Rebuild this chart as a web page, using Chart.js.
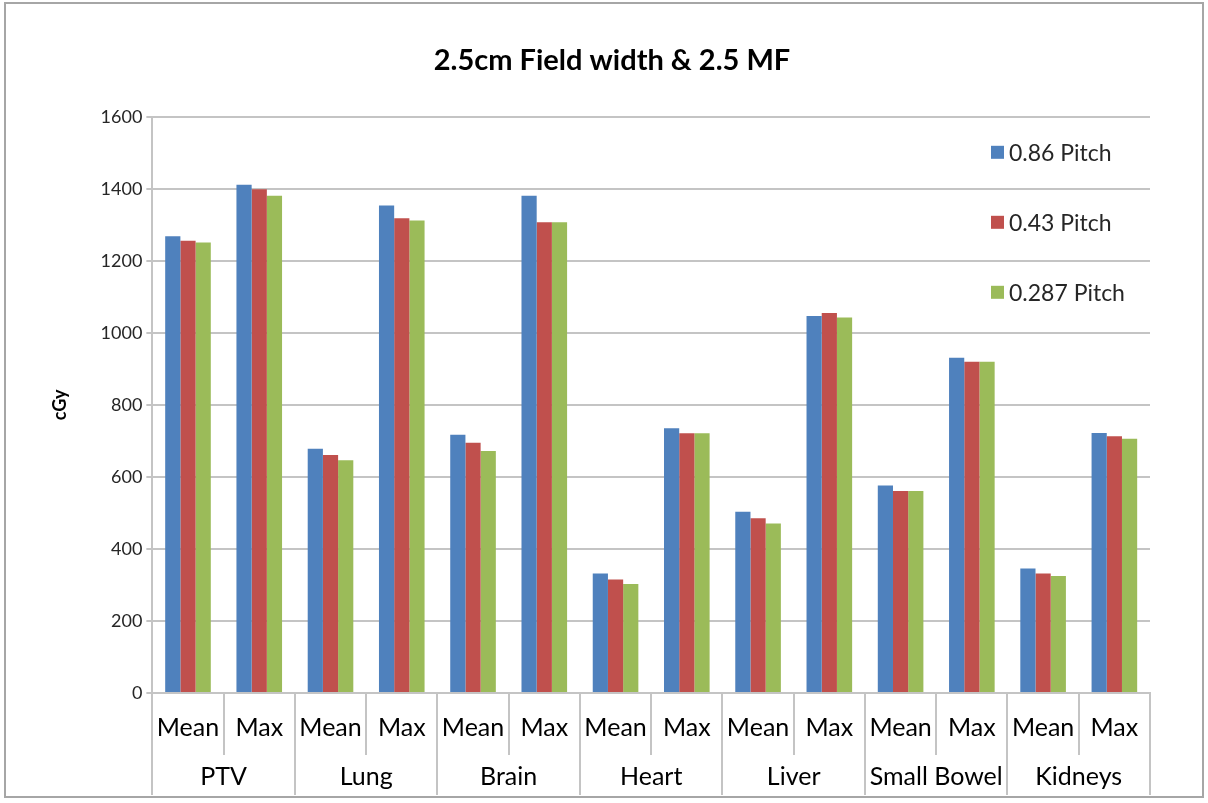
<!DOCTYPE html>
<html>
<head>
<meta charset="utf-8">
<title>2.5cm Field width &amp; 2.5 MF</title>
<script src="https://cdn.jsdelivr.net/npm/chart.js@4.4.1/dist/chart.umd.min.js"></script>
<style>
  html, body { margin: 0; padding: 0; background: #ffffff; }
  #wrap { width: 1208px; height: 803px; }
</style>
</head>
<body>
<div id="wrap"><canvas id="chart" width="1208" height="803"></canvas></div>
<script>
// Organ groups and the two dose statistics reported for each
const groups = ['PTV', 'Lung', 'Brain', 'Heart', 'Liver', 'Small Bowel', 'Kidneys'];
const measures = ['Mean', 'Max'];

// Pitch settings (series)
const seriesNames = ['0.86 Pitch', '0.43 Pitch', '0.287 Pitch'];
const seriesColors = ['#4F81BD', '#C0504D', '#9BBB59'];

// Dose in cGy, in order PTV Mean, PTV Max, Lung Mean, Lung Max, ...
const pitch086  = [1268, 1411, 678, 1354, 717, 1381, 332, 735, 503, 1047, 576, 931, 346, 722];
const pitch043  = [1256, 1399, 661, 1318, 695, 1307, 315, 721, 485, 1055, 561, 920, 332, 713];
const pitch0287 = [1251, 1381, 646, 1312, 672, 1307, 303, 721, 471, 1043, 561, 920, 325, 706];

// Value axis ticks
const yTicks = [0, 200, 400, 600, 800, 1000, 1200, 1400, 1600];

// One category per (group, measure) pair
const categories = groups.flatMap(() => measures);

const GRID = '#c4c4c4';
const FONT = 'Lato, "Open Sans", sans-serif';

// White page with a thin grey frame around the whole chart
const framePlugin = {
  id: 'frame',
  beforeDraw(chart) {
    const ctx = chart.ctx;
    ctx.save();
    ctx.fillStyle = '#ffffff';
    ctx.fillRect(0, 0, chart.width, chart.height);
    ctx.strokeStyle = '#a6a6a6';
    ctx.lineWidth = 2;
    ctx.strokeRect(5, 3, chart.width - 10, chart.height - 9);
    ctx.restore();
  }
};

// Vertical legend floating inside the upper right of the plot
const floatingLegend = {
  id: 'floatingLegend',
  afterDraw(chart) {
    const ctx = chart.ctx;
    const area = chart.chartArea;
    const x = area.right - 159;
    ctx.save();
    ctx.font = '23px ' + FONT;
    ctx.textBaseline = 'middle';
    ctx.textAlign = 'left';
    chart.data.datasets.forEach((ds, i) => {
      const y = area.top + 36 + i * 70;
      ctx.fillStyle = ds.backgroundColor;
      ctx.fillRect(x, y - 7, 13, 13);
      ctx.fillStyle = '#262626';
      ctx.fillText(ds.label, x + 18, y + 1);
    });
    ctx.restore();
  }
};

const seriesData = [pitch086, pitch043, pitch0287];

new Chart(document.getElementById('chart'), {
  type: 'bar',
  data: {
    labels: categories,
    datasets: seriesNames.map((name, i) => ({
      label: name,
      data: seriesData[i],
      backgroundColor: seriesColors[i],
      borderWidth: 0,
      categoryPercentage: 0.64,
      barPercentage: 1.0,
      xAxisID: 'x',
      yAxisID: 'y'
    }))
  },
  options: {
    responsive: false,
    animation: false,
    layout: { padding: { left: 74, right: 58, top: 0, bottom: 3 } },
    plugins: {
      legend: { display: false },
      tooltip: { enabled: false },
      title: {
        display: true,
        text: '2.5cm Field width & 2.5 MF',
        color: '#000000',
        font: { family: FONT, size: 29, weight: 'bold' },
        padding: { top: 43, bottom: 39 }
      }
    },
    scales: {
      // Inner row: Mean / Max, with a divider between every category
      x: {
        type: 'category',
        position: 'bottom',
        offset: true,
        grid: {
          offset: true,
          drawOnChartArea: false,
          drawTicks: true,
          tickLength: 62,
          color: GRID,
          lineWidth: 2
        },
        border: { display: true, color: GRID, width: 2 },
        ticks: {
          color: '#000000',
          font: { family: FONT, size: 25 },
          padding: -42,
          maxRotation: 0,
          autoSkip: false
        },
        afterFit(scale) { scale.height = 62; }
      },
      // Outer row: organ names, dividers only between organs
      groups: {
        type: 'category',
        position: 'bottom',
        labels: groups,
        offset: true,
        grid: {
          offset: true,
          drawOnChartArea: false,
          drawTicks: true,
          tickLength: 40,
          color: GRID,
          lineWidth: 2
        },
        border: { display: false },
        ticks: {
          color: '#000000',
          font: { family: FONT, size: 25 },
          padding: -33,
          maxRotation: 0,
          autoSkip: false
        },
        afterFit(scale) { scale.height = 45; }
      },
      y: {
        min: 0,
        max: 1600,
        afterBuildTicks(scale) {
          scale.ticks = yTicks.map(v => ({ value: v }));
        },
        grid: {
          color: GRID,
          lineWidth: 2,
          tickLength: 6
        },
        border: { display: true, color: GRID, width: 2 },
        ticks: {
          color: '#262626',
          font: { family: FONT, size: 18 },
          padding: 4,
          callback: v => String(v)
        },
        title: {
          display: true,
          text: 'cGy',
          color: '#000000',
          font: { family: FONT, size: 18, weight: 'bold' },
          padding: { top: -25, bottom: 26 }
        }
      }
    }
  },
  plugins: [framePlugin, floatingLegend]
});
</script>
</body>
</html>
